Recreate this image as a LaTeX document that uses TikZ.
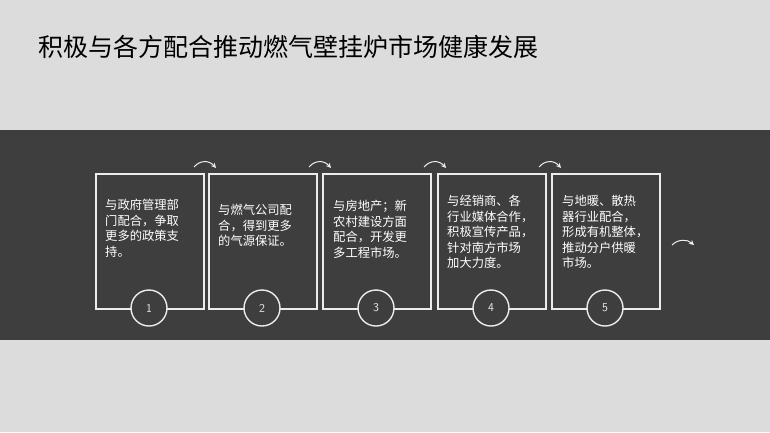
\documentclass[tikz,border=0pt]{standalone}
\usepackage{fontspec}
\usetikzlibrary{arrows.meta}
\newfontfamily\cjk{Noto Sans CJK SC}
\begin{document}
\begin{tikzpicture}[x=1pt,y=-1pt,
  card/.style={draw=white!85!gray,line width=1.6pt,minimum width=108pt,minimum height=135pt,anchor=north west},
  num/.style={circle,draw=white!85!gray,line width=1.4pt,fill=darkband,minimum size=36pt,text=white!85!gray,font=\sffamily\fontsize{12}{12}\selectfont},
  txt/.style={anchor=north west,text=white,align=left,font=\cjk\fontsize{12.3}{15.5}\selectfont,inner sep=0pt},
  arc/.style={white!85!gray,line width=1pt,-{Stealth[length=5pt,width=5pt]}}]
\definecolor{darkband}{HTML}{3E3E3E}
\definecolor{bg}{HTML}{DCDCDC}
\useasboundingbox (0,0) rectangle (770,432);
\fill[bg] (0,0) rectangle (770,432);
\fill[darkband] (0,130) rectangle (770,340);
\node[anchor=west,font=\cjk\fontsize{25}{25}\selectfont,text=black,inner sep=0pt] (title) at (38,47) {积极与各方配合推动燃气壁挂炉市场健康发展};
\foreach \i/\x in {1/95,2/208,3/322,4/437,5/551}{
  \node[card] (c\i) at (\x,173) {};
  \node[num] (n\i) at (\x+54,308) {\i};
}
\node[txt] (t1) at (105,199) {与政府管理部\\门配合，争取\\更多的政策支\\持。};
\node[txt] (t2) at (218,204) {与燃气公司配\\合，得到更多\\的气源保证。};
\node[txt] (t3) at (333,200) {与房地产；新\\农村建设方面\\配合，开发更\\多工程市场。};
\node[txt] (t4) at (447,195) {与经销商、各\\行业媒体合作，\\积极宣传产品，\\针对南方市场\\加大力度。};
\node[txt] (t5) at (562,195) {与地暖、散热\\器行业配合，\\形成有机整体，\\推动分户供暖\\市场。};
\foreach \x in {194,309,424,539}{
  \coordinate (a\x) at (\x,167);
  \coordinate (b\x) at (\x+22,168);
  \draw[arc] (a\x) .. controls (\x+6,160) and (\x+15,160) .. (b\x);
}
\coordinate (ea) at (672,245);
\coordinate (eb) at (694,245);
\draw[arc] (ea) .. controls (678,239) and (687,239) .. (eb);
\end{tikzpicture}
\end{document}
